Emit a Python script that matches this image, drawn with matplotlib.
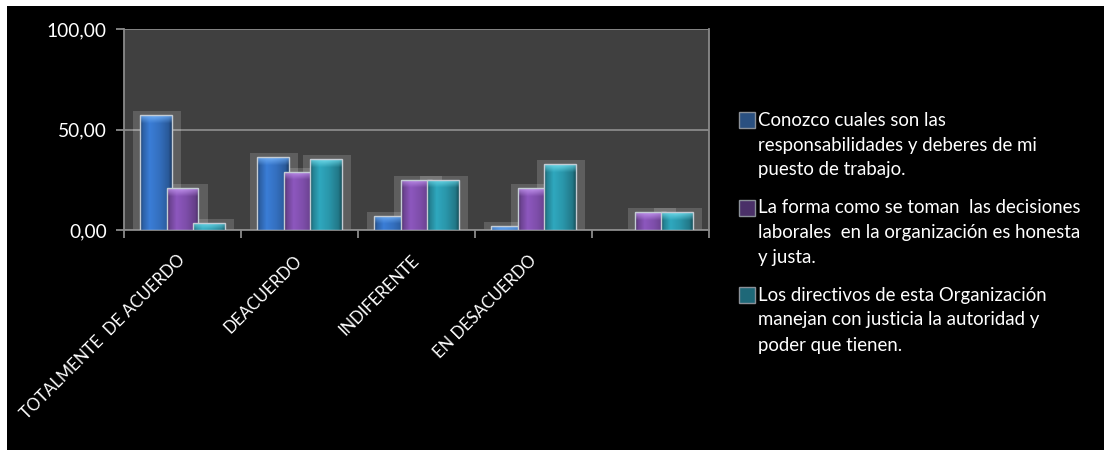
import matplotlib
matplotlib.use("Agg")
import matplotlib.pyplot as plt
import numpy as np
import matplotlib.colors as mcolors
from matplotlib.patches import Rectangle
from matplotlib.ticker import FuncFormatter

# ---------------- data ----------------
categories = ["TOTALMENTE  DE ACUERDO", "DEACUERDO", "INDIFERENTE", "EN DESACUERDO", ""]
series_names = [
    "Conozco cuales son las\nresponsabilidades y deberes de mi\npuesto de trabajo.",
    "La forma como se toman  las decisiones\nlaborales  en la organización es honesta\ny justa.",
    "Los directivos de esta Organización\nmanejan con justicia la autoridad y\npoder que tienen.",
]
serie_1 = [57.2, 36.3, 7.1, 2.1, 0.0]
serie_2 = [20.7, 28.9, 25.0, 20.7, 8.8]
serie_3 = [3.6, 35.2, 25.0, 32.6, 8.8]
y_ticks = [0, 50, 100]

# ---------------- style ----------------
FONT = ["Lato", "DejaVu Sans"]
plt.rcParams["font.family"] = FONT
W, H = 1104, 450
base_colors = ["#3470c0", "#7e4eaa", "#2a96aa"]
top_colors = ["#6aa8f0", "#b88ae4", "#66d2e2"]
legend_colors = ["#2a5080", "#4a3068", "#1e6878"]
GRID = "#8a8a8a"

fig = plt.figure(figsize=(W / 100, H / 100), dpi=100)
fig.patch.set_facecolor("white")
fig.add_artist(Rectangle((7 / W, 0), 1 - 7 / W, 1 - 6 / H, transform=fig.transFigure,
                         facecolor="black", edgecolor="none", zorder=-10))

ax = fig.add_axes([124 / W, 1 - 230 / H, 585 / W, 201 / H])
ax.set_facecolor("#404040")

x = np.arange(len(categories))
series = [serie_1, serie_2, serie_3]
bw = 0.27
offs = [-0.225, 0.0, 0.225]
px_per_unit = 201 / 100.0


def bar_image(base, top, hpx):
    nx = 48
    ny = max(4, int(round(hpx)) * 2)
    t = np.linspace(0, 1, nx)
    prof = np.interp(t, [0, 0.08, 0.3, 0.6, 0.9, 1.0], [0.55, 0.85, 1.12, 1.0, 0.8, 0.55])
    b = np.array(mcolors.to_rgb(base))
    tc = np.array(mcolors.to_rgb(top))
    img = np.clip(prof[None, :, None] * b[None, None, :], 0, 1) * np.ones((ny, 1, 1))
    rows_px = np.linspace(0, hpx, ny)
    bev = np.clip(1 - rows_px / 8.0, 0, 1)
    chev = 1 - np.abs(t - 0.45) * 1.2
    w = np.clip(bev[:, None] * (0.6 + 0.6 * chev[None, :]), 0, 1)
    img = img * (1 - w[:, :, None]) + tc[None, None, :] * w[:, :, None]
    return img


for i, vals in enumerate(series):
    for xi, v in zip(x, vals):
        if v <= 0:
            continue
        x0 = xi + offs[i] - bw / 2
        ax.add_patch(Rectangle((x0 - 0.06, 0), bw + 0.14, v + 2.0, facecolor="white",
                               alpha=0.16, edgecolor="none", zorder=2 + i * 0.1))
    bars = ax.bar(x + offs[i], vals, width=bw, color=base_colors[i], edgecolor="none",
                  zorder=3 + i * 0.1)
    for rect, v in zip(bars, vals):
        if v <= 0:
            continue
        x0, w_ = rect.get_x(), rect.get_width()
        img = bar_image(base_colors[i], top_colors[i], v * px_per_unit)
        im = ax.imshow(img, extent=(x0, x0 + w_, 0, v), aspect="auto", origin="upper",
                       interpolation="bilinear", zorder=3 + i * 0.1 + 0.01)
        im.set_clip_path(rect)
        ax.add_patch(Rectangle((x0, 0), w_, v, facecolor="none", edgecolor="#c4ccd4",
                               linewidth=1.0, zorder=3 + i * 0.1 + 0.02))

ax.set_xlim(-0.5, len(categories) - 0.5)
ax.set_ylim(0, 100)
ax.set_yticks(y_ticks)
ax.yaxis.set_major_formatter(FuncFormatter(lambda v, p: f"{v:.2f}".replace(".", ",")))
ax.yaxis.grid(True, color=GRID, linewidth=1.3, zorder=1)
ax.set_axisbelow(True)
for s in ax.spines.values():
    s.set_color(GRID)
    s.set_linewidth(1.3)
ax.spines["top"].set_visible(False)

ax.set_xticks(x, categories)
ax.set_xticks(np.arange(-0.5, len(categories), 1.0), minor=True)
ax.tick_params(axis="x", which="major", length=0, pad=20, labelsize=12, labelcolor="white")
ax.tick_params(axis="x", which="minor", length=6, width=1.3, color=GRID, direction="out")
ax.tick_params(axis="y", length=6, width=1.3, color=GRID, pad=6.5, labelsize=13.8,
               labelcolor="white")
for lbl in ax.get_xticklabels():
    lbl.set_rotation(45)
    lbl.set_ha("right")
    lbl.set_va("center")
    lbl.set_rotation_mode("anchor")

# ---------------- legend ----------------
first_line_y = [120, 207.5, 295]
for i, name in enumerate(series_names):
    y0 = first_line_y[i]
    fig.add_artist(Rectangle((739 / W, 1 - (y0 + 8) / H), 16 / W, 16 / H,
                             transform=fig.transFigure, facecolor=legend_colors[i],
                             edgecolor="#8a9098", linewidth=1.0))
    for j, line in enumerate(name.split("\n")):
        fig.text(758 / W, 1 - (y0 + 25 * j) / H, line, color="white", fontsize=13.4,
                 ha="left", va="center")

fig.savefig("out.png", dpi=100, facecolor=fig.get_facecolor())
